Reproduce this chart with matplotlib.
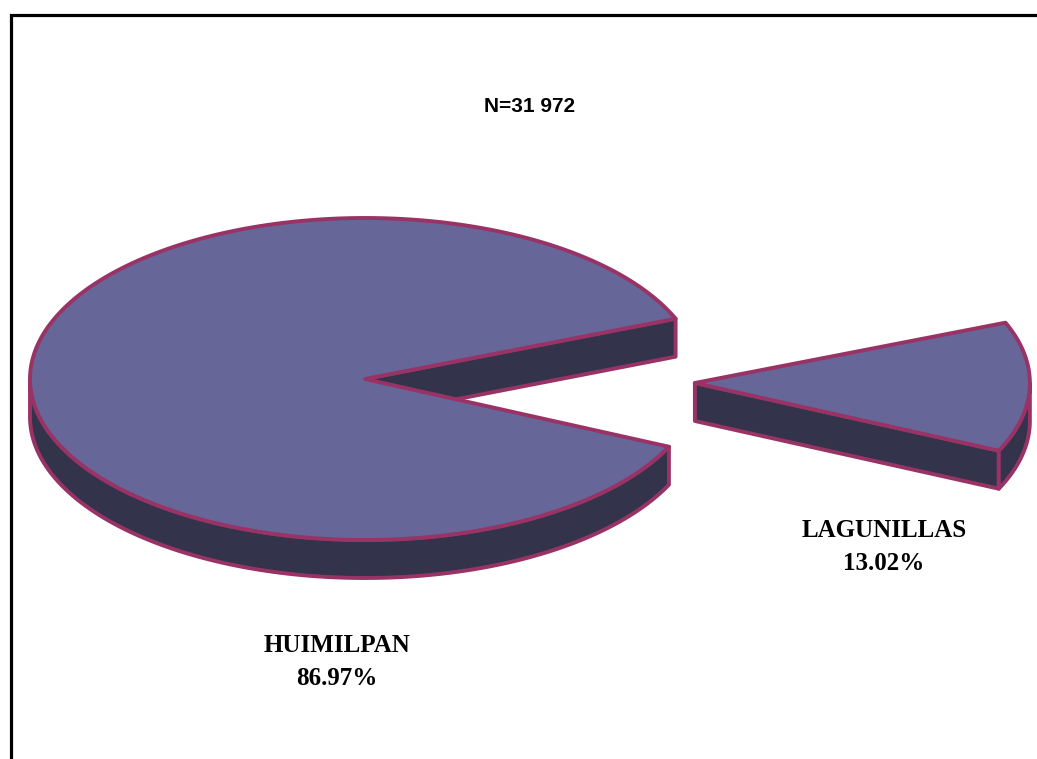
import numpy as np
import matplotlib
matplotlib.use("Agg")
import matplotlib.pyplot as plt
from matplotlib.patches import Polygon
from matplotlib.lines import Line2D

# municipios y porcentaje de la poblacion
municipios = ["HUIMILPAN", "LAGUNILLAS"]
porcentajes = [86.97, 13.02]
explode = [0.0, 0.985]
total_n = "31 972"

# estilo tipo Excel clasico
top_color = "#666699"
side_color = "#33334c"
edge_color = "#993366"

W, H = 1037, 759
fig = plt.figure(figsize=(W / 100, H / 100), dpi=100)
ax = fig.add_axes([0, 0, 1, 1])
ax.set_xlim(0, W)
ax.set_ylim(H, 0)
ax.axis("off")

# elipse del pastel en pixeles
cx, cy = 365, 379
rx, ry = 335, 161
depth = 38
start_deg = 22.0


def rim(t, ox, oy, dz=0.0):
    return np.column_stack([cx + ox + rx * np.cos(t), cy + oy - ry * np.sin(t) + dz])


def draw_slice(t1, t2, frac):
    mid = 0.5 * (t1 + t2)
    ox = frac * rx * np.cos(mid)
    oy = -frac * ry * np.sin(mid)
    apex = np.array([cx + ox, cy + oy])
    kw = dict(edgecolor=edge_color, linewidth=2.8, joinstyle="round")

    # caras de corte (solo las que miran hacia el frente)
    for t, normal in ((t1, t1 - np.pi / 2), (t2, t2 + np.pi / 2)):
        if np.sin(normal) < 0:
            p = rim(np.array([t]), ox, oy)[0]
            quad = [apex, p, p + [0, depth], apex + [0, depth]]
            ax.add_patch(Polygon(quad, closed=True, facecolor=side_color, **kw))

    # lado curvo visible (mitad inferior de la elipse)
    for k in range(-1, 2):
        a = max(t1, np.pi + 2 * np.pi * k)
        b = min(t2, 2 * np.pi + 2 * np.pi * k)
        if b > a:
            ts = np.linspace(a, b, 200)
            upper = rim(ts, ox, oy)
            lower = rim(ts[::-1], ox, oy, depth)
            ax.add_patch(Polygon(np.vstack([upper, lower]), closed=True,
                                 facecolor=side_color, **kw))

    # cara superior
    ts = np.linspace(t1, t2, 400)
    pts = np.vstack([apex, rim(ts, ox, oy)])
    ax.add_patch(Polygon(pts, closed=True, facecolor=top_color, **kw))


fr = np.array(porcentajes) / sum(porcentajes)
t = np.deg2rad(start_deg)
for f, e in zip(fr, explode):
    t_next = t + f * 2 * np.pi
    draw_slice(t, t_next, e)
    t = t_next

# etiquetas
label_pos = [(337, 662), (884, 547)]
for name, val, (lx, ly) in zip(municipios, porcentajes, label_pos):
    ax.text(lx, ly, f"{name}\n{val:.2f}%", ha="center", va="center",
            fontsize=18, fontweight="bold", family="Liberation Serif",
            linespacing=1.55)

ax.text(530, 107, f"N={total_n}", ha="center", va="center", fontsize=15,
        fontweight="bold", family="Liberation Sans")

# marco del area del grafico
ax.add_line(Line2D([11, 11, W + 10], [H + 10, 14.5, 14.5], color="black",
                   linewidth=2.3, solid_joinstyle="miter"))

fig.savefig("out.png", dpi=100)
